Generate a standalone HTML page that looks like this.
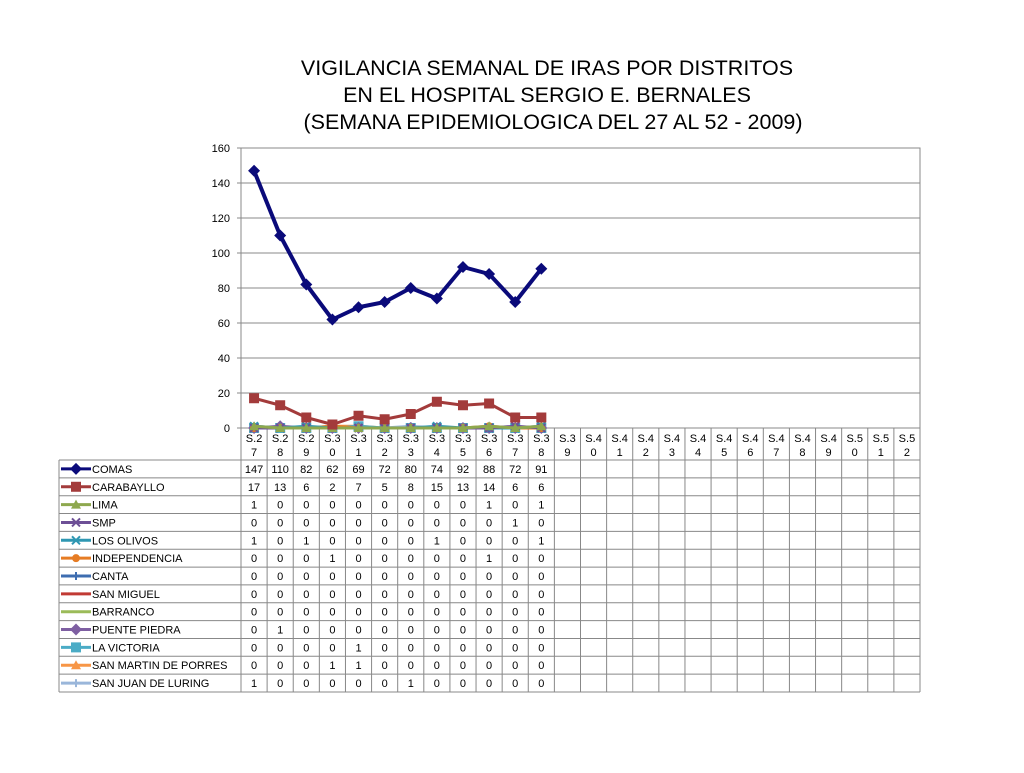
<!DOCTYPE html>
<html><head><meta charset="utf-8"><style>body{margin:0;background:#fff}svg{font-family:"Liberation Sans",sans-serif}</style></head>
<body>
<svg id="c" width="1024" height="768">
<g font-size="21.5" text-anchor="middle" fill="#000">
<text x="547" y="75">VIGILANCIA SEMANAL DE IRAS POR DISTRITOS</text>
<text x="547" y="102">EN EL HOSPITAL SERGIO E. BERNALES</text>
<text x="553" y="129">(SEMANA EPIDEMIOLOGICA DEL 27 AL 52 - 2009)</text>
</g>
</svg>
<script>
const categories=["S.27","S.28","S.29","S.30","S.31","S.32","S.33","S.34","S.35","S.36","S.37","S.38","S.39","S.40","S.41","S.42","S.43","S.44","S.45","S.46","S.47","S.48","S.49","S.50","S.51","S.52"];
const seriesNames=["COMAS","CARABAYLLO","LIMA","SMP","LOS OLIVOS","INDEPENDENCIA","CANTA","SAN MIGUEL","BARRANCO","PUENTE PIEDRA","LA VICTORIA","SAN MARTIN DE PORRES","SAN JUAN DE LURING"];
const comas=[147,110,82,62,69,72,80,74,92,88,72,91];
const carabayllo=[17,13,6,2,7,5,8,15,13,14,6,6];
const lima=[1,0,0,0,0,0,0,0,0,1,0,1];
const smp=[0,0,0,0,0,0,0,0,0,0,1,0];
const losOlivos=[1,0,1,0,0,0,0,1,0,0,0,1];
const independencia=[0,0,0,1,0,0,0,0,0,1,0,0];
const canta=[0,0,0,0,0,0,0,0,0,0,0,0];
const sanMiguel=[0,0,0,0,0,0,0,0,0,0,0,0];
const barranco=[0,0,0,0,0,0,0,0,0,0,0,0];
const puentePiedra=[0,1,0,0,0,0,0,0,0,0,0,0];
const laVictoria=[0,0,0,0,1,0,0,0,0,0,0,0];
const sanMartin=[0,0,0,1,1,0,0,0,0,0,0,0];
const sanJuan=[1,0,0,0,0,0,1,0,0,0,0,0];
const yTicks=[0,20,40,60,80,100,120,140,160];
const series=[comas,carabayllo,lima,smp,losOlivos,independencia,canta,sanMiguel,barranco,puentePiedra,laVictoria,sanMartin,sanJuan];
const colors=["#0a0a7a","#a33b3b","#8ea84e","#6d4f96","#2f97b2","#e67c24","#3e6db0","#c13a34","#9bbb59","#7e5fa2","#4bacc6","#f79646","#9ab6da"];
const markers=["diamond","square","tri","x","x","circle","plus","none","none","diamond","square","tri","plus"];
const svg=document.getElementById('c');const NS="http://www.w3.org/2000/svg";
const L=241,R=920,T=148,B=428,ymax=160;
const cw=(R-L)/categories.length;
const x=i=>L+cw*(i+0.5);
const y=v=>B-(v/ymax)*(B-T);
function mk(tag,a,parent){const e=document.createElementNS(NS,tag);for(const k in a)e.setAttribute(k,a[k]);(parent||svg).appendChild(e);return e;}
const frame=mk('rect',{x:L,y:T,width:R-L,height:B-T,fill:'none',stroke:'#888'});


yTicks.forEach(t=>{
 const ln=mk('line',{x1:L-4,x2:R,y1:y(t),y2:y(t),stroke:'#888'});
 
 
 const tx=mk('text',{x:L-11,y:y(t)+4,'font-size':11,'text-anchor':'end'});tx.textContent=t;
 
 
});
const rowTop=460,rh=(692-460)/13;
const tg=mk('g',{stroke:'#888','stroke-width':1});


for(let i=0;i<=categories.length;i++)mk('line',{x1:L+cw*i,x2:L+cw*i,y1:B,y2:692},tg);
mk('line',{x1:59,x2:59,y1:rowTop,y2:692},tg);
for(let j=0;j<=13;j++)mk('line',{x1:59,x2:R,y1:rowTop+rh*j,y2:rowTop+rh*j},tg);
categories.forEach((c,i)=>{
 const t1=mk('text',{x:x(i),y:442,'font-size':11,'text-anchor':'middle'});t1.textContent=c.slice(0,3);
 
 
 const t2=mk('text',{x:x(i),y:456,'font-size':11,'text-anchor':'middle'});t2.textContent=c.slice(3);
 
 
});
function marker(g,type,cx,cy,col){
 if(type==='diamond')mk('polygon',{points:`${cx},${cy-6} ${cx+6},${cy} ${cx},${cy+6} ${cx-6},${cy}`,fill:col},g);
 else if(type==='square')mk('rect',{x:cx-5,y:cy-5,width:10,height:10,fill:col},g);
 else if(type==='tri')mk('polygon',{points:`${cx},${cy-5} ${cx+5},${cy+4} ${cx-5},${cy+4}`,fill:col},g);
 else if(type==='circle')mk('circle',{cx:cx,cy:cy,r:4,fill:col},g);
 else if(type==='x'){mk('path',{d:`M${cx-4} ${cy-4}L${cx+4} ${cy+4}M${cx-4} ${cy+4}L${cx+4} ${cy-4}`,stroke:col,'stroke-width':2},g);}
 else if(type==='plus'){mk('path',{d:`M${cx-4} ${cy}L${cx+4} ${cy}M${cx} ${cy-4}L${cx} ${cy+4}`,stroke:col,'stroke-width':2},g);}
}
for(let s=series.length-1;s>=0;s--){
 const d=series[s],col=colors[s];
 const g=mk('g',{});
 
 
 mk('polyline',{points:d.map((v,i)=>x(i)+','+y(v)).join(' '),fill:'none',stroke:col,'stroke-width':s===0?4:3,'stroke-linejoin':'round'},g);
 d.forEach((v,i)=>marker(g,markers[s],x(i),y(v),col));
}
seriesNames.forEach((n,s)=>{
 const cy=rowTop+rh*(s+0.5);
 const g=mk('g',{});
 
 
 mk('line',{x1:61,x2:91,y1:cy,y2:cy,stroke:colors[s],'stroke-width':3},g);
 marker(g,markers[s],76,cy,colors[s]);
 const t=mk('text',{x:92,y:cy+4,'font-size':11},g);t.textContent=n;
 series[s].forEach((v,i)=>{
  const tv=mk('text',{x:x(i),y:cy+4,'font-size':11,'text-anchor':'middle'});tv.textContent=v;
  
  
 });
});
</script>
</body></html>
